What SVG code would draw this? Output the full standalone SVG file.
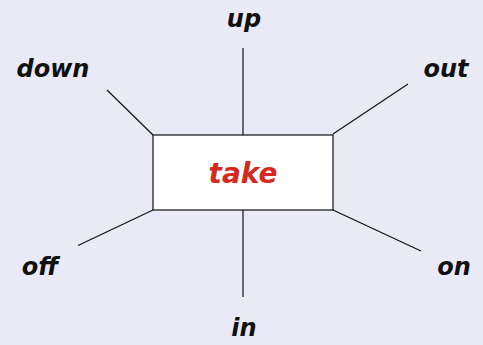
<svg xmlns="http://www.w3.org/2000/svg" width="483" height="345" viewBox="0 0 483 345">
<style>
.lbl{font-family:"DejaVu Sans","Noto Sans",sans-serif;font-style:italic;font-weight:bold;font-size:24px;fill:#111;text-anchor:middle}
.ctr{fill:#d42a1e;font-size:28px}
.con line{stroke:#111;stroke-width:1.2}
</style>
<rect width="483" height="345" fill="#e9eaf6"/>
<g id="connectors" class="con">
<line x1="243" y1="48" x2="243" y2="135"/>
<line x1="107" y1="90" x2="153" y2="135"/>
<line x1="408" y1="84" x2="333" y2="134"/>
<line x1="78" y1="245.5" x2="153" y2="210"/>
<line x1="333" y1="210" x2="421" y2="251"/>
<line x1="243" y1="210" x2="243" y2="297"/>
</g>
<g id="take"><rect x="153" y="135" width="180" height="75" fill="#fff" stroke="#111" stroke-width="1.2"/><text class="lbl ctr" x="243" y="183">take</text></g>
<g id="up"><text class="lbl" x="244" y="27">up</text></g>
<g id="down"><text class="lbl" x="53" y="77">down</text></g>
<g id="out"><text class="lbl" x="446" y="77">out</text></g>
<g id="off"><text class="lbl" x="40" y="275">off</text></g>
<g id="on"><text class="lbl" x="454" y="275">on</text></g>
<g id="in"><text class="lbl" x="244" y="336">in</text></g>
</svg>
